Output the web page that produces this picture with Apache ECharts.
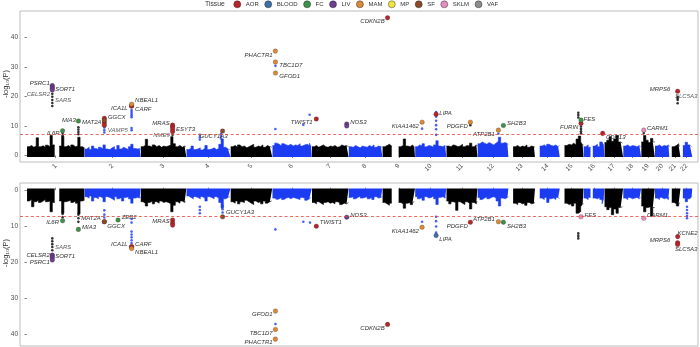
<!DOCTYPE html>
<html><head><meta charset="utf-8">
<script src="https://cdn.jsdelivr.net/npm/echarts@6/dist/echarts.min.js"></script>
<style>html,body{margin:0;padding:0;background:#fff}#c{width:700px;height:347px}</style>
</head><body><div id="c"></div>
<script>
// ---------------- DATA ----------------
const chromNames = ['1','2','3','4','5','6','7','8','9','10','11','12','13','14','15','16','17','18','19','20','21','22'];
const chromLengths = [249.25,243.2,198.0,191.15,180.9,171.1,159.1,146.4,141.2,135.5,135.0,133.85,115.2,107.3,102.5,90.35,81.2,78.1,59.1,63.0,48.1,51.3];
const tissues = ['AOR','BLOOD','FC','LIV','MAM','MP','SF','SKLM','VAF'];
const yTicksTop = [0,10,20,30,40];
const yTicksBottom = [0,10,20,30,40];
const gwThreshold = 7.3;
const binSize = 10; // Mb per envelope bin

// upper envelope of the dense background points (-log10 P), one list per chromosome, 10-Mb bins
const topEnvelope = [
 [3.0,3.4,2.8,3.2,6.0,3.0,3.3,2.8,3.5,3.0,6.8,3.6,null,null,3.2,6.5,3.0,3.4,2.8,3.6,3.0,3.2,6.2,3.0,2.6],
 [2.2,2.8,2.0,3.2,2.4,2.0,2.8,2.2,3.6,2.2,2.0,2.6,3.0,2.0,3.4,2.2,2.8,2.4,2.0,3.0,3.8,2.4,2.2,2.4,2.0],
 [3.0,3.4,5.5,3.2,2.8,3.6,3.0,3.4,2.8,3.2,3.0,3.2,3.6,6.4,4.0,3.0,3.4,2.8,3.2,3.0],
 [2.0,2.4,3.2,2.0,2.2,2.6,1.9,2.4,3.4,2.0,2.2,2.6,2.0,2.4,3.8,5.6,2.8,2.2,2.4,2.0],
 [3.0,3.4,2.8,3.6,3.0,3.2,2.6,3.0,3.4,3.8,2.8,3.2,3.0,3.6,2.8,3.4,3.0,3.2,2.8],
 [3.4,4.2,3.8,3.2,4.0,3.6,3.4,3.8,3.2,3.6,3.4,4.0,3.2,3.6,3.8,3.4,4.2,3.0],
 [3.0,3.4,2.8,3.2,3.6,3.0,2.8,3.2,3.0,3.4,2.8,3.0,3.6,3.2,3.4,3.0],
 [3.0,2.8,3.4,3.0,2.6,3.2,3.0,2.8,3.4,3.0,3.6,2.8,3.2,3.0,2.8],
 [3.0,3.4,3.8,3.2,null,null,null,3.0,3.4,5.6,3.2,3.0,3.6,3.0,2.8],
 [3.0,3.6,3.2,4.0,3.0,3.4,3.2,2.8,3.6,5.0,3.2,3.0,3.4,3.0],
 [3.2,3.0,3.6,3.4,3.0,3.2,3.8,3.0,3.4,3.2,4.2,3.0,3.6,3.2],
 [4.0,4.6,4.2,3.8,4.4,4.0,3.6,4.2,4.8,6.2,4.2,4.4,4.0,3.8],
 [null,null,3.0,3.4,2.8,3.2,3.0,3.6,2.8,3.2,3.0,2.8],
 [null,null,3.2,3.6,3.0,3.8,3.4,3.2,3.6,3.0,3.4],
 [null,null,3.4,3.8,3.6,4.2,3.6,5.6,6.6,4.6,3.6],
 [3.0,3.6,2.8,null,3.2,3.8,3.0,4.6,5.2,3.4],
 [4.4,5.2,6.4,4.8,5.6,6.8,4.6,5.0,4.2],
 [3.2,3.6,3.0,3.4,3.2,3.0,3.4,3.0],
 [4.6,6.8,5.2,4.4,5.8,4.6],
 [3.2,3.6,3.0,3.4,3.2,3.6,3.0],
 [null,3.0,3.4,4.0,3.2],
 [null,3.4,4.5,3.6,3.2,3.0]
];
const bottomEnvelope = [
 [3.0,2.6,4.6,3.2,2.8,3.4,3.0,2.6,3.2,3.0,6.0,3.4,null,null,3.0,6.4,3.2,3.0,2.8,3.4,3.0,3.6,6.6,3.0,2.8],
 [1.8,2.2,1.6,3.0,2.0,2.4,1.8,2.2,3.2,1.8,2.0,2.4,2.8,1.8,2.4,2.0,3.0,2.0,1.8,2.4,3.6,2.2,2.0,2.2,1.8],
 [3.2,3.6,4.4,3.4,3.0,3.8,3.2,3.6,3.0,3.4,3.2,3.4,3.8,6.0,4.2,3.2,3.6,3.0,3.4,3.2],
 [1.6,2.0,2.4,1.8,2.0,2.4,1.8,2.2,3.0,1.8,2.0,2.4,1.8,2.2,3.4,5.0,2.4,2.0,2.2,1.8],
 [3.2,3.6,3.0,3.8,3.2,3.4,2.8,3.2,3.6,4.0,3.0,3.4,3.2,3.8,3.0,3.6,3.2,3.4,3.0],
 [2.2,2.6,2.4,2.0,2.6,2.2,2.0,2.4,2.0,2.2,2.4,2.6,2.0,2.2,2.8,2.4,2.6,2.0],
 [3.4,3.8,3.2,3.6,4.0,3.4,3.2,3.6,3.4,3.8,3.2,3.4,4.0,3.6,3.8,3.4],
 [2.0,1.8,2.4,2.0,1.6,2.2,2.0,1.8,2.4,2.0,2.6,1.8,2.2,2.0,1.8],
 [3.4,3.8,4.2,3.6,null,null,null,3.4,3.8,5.0,3.6,3.4,4.0,3.4,3.2],
 [1.8,2.4,2.0,2.8,1.8,2.2,2.0,1.6,2.4,4.0,2.0,1.8,2.2,1.8],
 [3.0,3.8,3.2,3.4,5.6,3.2,3.6,4.0,3.2,3.6,5.2,3.4,3.8,3.2],
 [2.0,2.6,2.2,1.8,2.4,2.0,1.8,2.2,3.0,4.4,2.2,2.4,2.0,1.8],
 [null,null,3.6,4.0,3.4,3.8,3.6,4.2,3.4,3.8,3.6,3.4],
 [null,null,2.2,2.6,2.0,3.4,2.4,2.2,2.6,2.0,2.4],
 [null,null,3.6,4.0,3.8,4.4,3.6,6.4,6.0,4.6,3.8],
 [2.2,2.6,2.0,null,2.2,2.4,2.0,2.6,3.8,2.2],
 [4.6,5.4,4.8,6.8,5.2,6.4,4.8,5.0,4.6],
 [2.2,2.6,2.0,2.4,2.2,2.0,2.4,2.0],
 [4.4,6.0,4.8,4.6,7.2,4.8],
 [2.2,2.6,2.0,2.4,2.2,2.6,2.0],
 [null,3.4,3.8,4.4,3.6],
 [null,2.2,3.2,2.4,2.0,1.8]
];

// individual points: [gene label, chromosome, position (Mb), -log10 P, tissue ('' = background point)]
const topHits = [
 ['PSRC1',1,109.8,23.7,'LIV'],['',1,109.8,23.2,'LIV'],['SORT1',1,109.8,22.7,'LIV'],['',1,109.8,22.2,'LIV'],
 ['CELSR2',1,109.8,20.9,''],['',1,109.8,19.9,''],['SARS',1,109.8,18.8,''],['',1,109.8,17.8,''],['',1,109.8,16.8,''],
 ['IL6R',1,154.4,8.4,'FC'],['',1,154.4,7.6,''],['',1,154.4,6.8,''],
 ['MIA3',1,222.8,11.7,'FC'],['',1,222.8,9.6,''],['',1,222.8,8.8,''],['',1,222.8,8.0,''],['',1,222.8,7.2,''],
 ['GGCX',2,85.8,12.6,'AOR'],['',2,85.8,11.9,'SF'],['MAT2A',2,85.8,11.1,'AOR'],['',2,85.8,10.3,'AOR'],
 ['',2,85.8,9.5,''],['VAMP5',2,85.8,8.6,''],['',2,85.8,7.8,''],
 ['NBEAL1',2,203.8,17.4,'MAM'],['ICA1L',2,203.8,16.8,'AOR'],['CARF',2,203.8,16.8,'AOR'],
 ['',2,203.8,15.4,''],['',2,203.8,14.8,''],['',2,203.8,14.2,''],['',2,203.8,13.6,''],['',2,203.8,13.0,''],['',2,203.8,9.3,''],['',2,203.8,8.6,''],
 ['MRAS',3,138.1,10.3,'AOR'],['',3,138.1,9.7,'AOR'],['ESYT3',3,138.1,9.0,'AOR'],['',3,138.1,8.1,'AOR'],['NME9',3,138.1,7.0,''],
 ['',4,58.0,5.4,''],['',4,58.0,6.2,''],['',4,58.0,7.0,''],['',4,150.0,5.8,''],['',4,150.0,6.6,''],['',4,150.0,7.4,''],
 ['GUCY1A3',4,156.6,8.3,'SF'],
 ['PHACTR1',6,12.9,35.4,'MAM'],['TBC1D7',6,13.3,31.7,'MAM'],['',6,13.3,30.4,''],['GFOD1',6,13.4,28.0,'MAM'],
 ['',6,13.0,9.0,''],['',6,161.5,13.8,''],['',6,134.0,10.4,''],
 ['TWIST1',7,19.1,12.4,'AOR'],
 ['NOS3',7,150.7,10.7,'LIV'],['',7,150.7,10.0,'LIV'],
 ['CDKN2B',9,22.0,46.7,'AOR'],
 ['KIAA1462',10,30.3,11.3,'MAM'],['',10,30.3,9.1,''],
 ['',10,91.0,14.7,''],['LIPA',10,91.0,14.0,'AOR'],['',10,91.0,13.2,''],['',10,91.0,11.8,''],['',10,91.0,10.3,''],['',10,91.0,8.9,''],['',10,91.0,7.0,''],
 ['PDGFD',11,103.8,11.3,'MAM'],['',11,103.8,10.3,''],
 ['ATP2B1',12,90.0,8.6,'MAM'],['',12,90.0,7.4,''],
 ['SH2B3',12,111.8,10.2,'FC'],
 ['',15,79.7,14.5,''],['',15,79.7,13.7,''],['',15,79.7,12.9,''],
 ['FES',15,91.4,12.0,'FC'],['FURIN',15,91.4,10.9,'AOR'],['',15,91.4,9.8,''],['',15,91.4,9.0,''],['',15,91.4,8.2,''],['',15,91.4,7.5,''],
 ['CDH13',16,82.7,7.5,'AOR'],
 ['CARM1',19,11.0,8.6,'SKLM'],['',19,11.0,7.6,''],
 ['MRPS6',21,35.5,21.8,'AOR'],['SLC5A3',21,35.5,19.9,''],['',21,35.5,19.4,''],['',21,35.5,18.8,''],['',21,35.5,17.7,'']
];
const bottomHits = [
 ['IL6R',1,154.4,8.5,'FC'],['',1,154.4,7.5,''],['',1,154.4,6.6,''],
 ['MIA3',1,222.8,10.9,'FC'],['',1,222.8,8.8,''],['',1,222.8,7.8,''],['',1,222.8,6.8,''],
 ['',1,109.8,13.4,''],['',1,109.8,14.2,''],['',1,109.8,15.0,''],['SARS',1,109.8,15.8,''],['',1,109.8,16.7,''],
 ['CELSR2',1,109.8,18.0,'LIV'],['SORT1',1,109.8,18.3,'LIV'],['',1,109.8,18.8,'LIV'],['PSRC1',1,109.8,19.4,'LIV'],
 ['MAT2A',2,85.8,8.75,'SF'],['GGCX',2,85.8,8.75,'SF'],['',2,85.8,7.6,''],['',2,85.8,6.8,''],['',2,85.8,5.6,''],
 ['ZEB2',2,145.1,8.3,'FC'],
 ['',2,203.8,11.5,''],['',2,203.8,12.3,''],['',2,203.8,13.1,''],['',2,203.8,13.9,''],['',2,203.8,14.7,''],
 ['ICA1L',2,203.8,15.7,'AOR'],['CARF',2,203.8,15.7,'AOR'],['NBEAL1',2,203.8,16.2,'MAM'],['',2,203.8,9.0,''],['',2,203.8,8.0,''],
 ['',3,138.1,8.3,'AOR'],['MRAS',3,138.1,9.1,'AOR'],['',3,138.1,9.7,'AOR'],
 ['',4,58.0,4.6,''],['',4,58.0,5.5,''],['',4,58.0,6.4,''],['',4,156.6,4.4,''],['',4,156.6,5.3,''],['',4,156.6,6.2,''],
 ['GUCY1A3',4,156.6,7.4,'SF'],
 ['',6,13.0,10.9,''],['',6,134.0,8.75,''],['',6,162.9,9.0,''],
 ['TWIST1',7,19.1,10.0,'AOR'],
 ['NOS3',7,150.7,7.5,'LIV'],
 ['',10,30.3,8.75,''],['KIAA1462',10,30.3,10.3,'MAM'],
 ['',10,91.0,7.4,''],['',10,91.0,8.6,''],['',10,91.0,10.1,''],['',10,91.0,11.8,''],['LIPA',10,91.0,12.6,'BLOOD'],
 ['PDGFD',11,103.8,8.9,'AOR'],
 ['ATP2B1',12,90.0,8.75,'MAM'],['SH2B3',12,111.8,8.9,'FC'],
 ['',15,79.7,12.0,''],['',15,79.7,12.7,''],['',15,79.7,13.4,''],
 ['FES',15,91.4,7.4,'SKLM'],
 ['CARM1',19,11.0,7.8,'SKLM'],
 ['KCNE2',21,35.7,12.9,'AOR'],['MRPS6',21,35.5,14.6,'AOR'],['SLC5A3',21,35.5,15.1,'AOR'],
 ['',22,28.0,4.6,''],['',22,28.0,5.5,''],['',22,28.0,6.4,''],['',22,28.0,7.2,''],['',22,28.0,7.8,''],
 ['GFOD1',6,13.4,33.6,'MAM'],['',6,13.3,37.2,''],['TBC1D7',6,13.3,38.7,'MAM'],['PHACTR1',6,12.9,41.4,'MAM'],
 ['CDKN2B',9,22.0,37.3,'AOR']
];

// ---------------- STYLE ----------------
const tissueColors = {AOR:'#b5262b',BLOOD:'#3f6fa8',FC:'#3e8f47',LIV:'#6d3f8f',MAM:'#d98a36',MP:'#f0e442',SF:'#8a4a2a',SKLM:'#e58fc0',VAF:'#8c8c8c'};
const bandColors = ['#000000','#1b3cf2'];
// label placement: side (L/R/C), distance or dx (px from dot centre), dy (px)
const labelStyle = {
 'T:PSRC1':['L',2.3,-2.4],'T:SORT1':['R',2.7,0.7],'T:CELSR2':['L',2.3,0],'T:SARS':['R',2.7,0],
 'T:IL6R':['L',2.7,2.3],'T:MIA3':['L',2.3,-1],'T:MAT2A':['L',2.6,0],'T:GGCX':['R',3.4,-1.3],'T:VAMP5':['R',3.4,0],
 'T:NBEAL1':['R',3.3,-3.6],'T:ICA1L':['L',3.7,2.3],'T:CARF':['R',3.3,3.7],'T:MRAS':['L',2.7,-1.7],'T:ESYT3':['R',3.3,0],
 'T:NME9':['L',2.7,0],'T:GUCY1A3':['C',-9,5],'T:PHACTR1':['L',2.6,4],'T:TBC1D7':['R',3.7,3.7],'T:GFOD1':['R',3.7,3.3],
 'T:TWIST1':['L',3.4,3.7],'T:NOS3':['R',3.3,-1.3],'T:CDKN2B':['L',2.7,4],'T:KIAA1462':['L',3,4.4],'T:LIPA':['R',3,-1],
 'T:PDGFD':['L',2.4,3.7],'T:ATP2B1':['L',3.3,4],'T:SH2B3':['R',3.4,-2.6],'T:FES':['R',2.3,-0.7],'T:FURIN':['L',2.4,4],
 'T:CDH13':['R',3,3.7],'T:CARM1':['R',3,-1.7],'T:MRPS6':['L',7,-1.6],'T:SLC5A3':['C',8.5,0],
 'B:IL6R':['L',3.4,2],'B:MIA3':['R',3.4,-2],'B:MAT2A':['L',3.3,-3.4],'B:GGCX':['R',2.7,4.3],'B:ZEB2':['R',3.4,-2.7],
 'B:ICA1L':['L',3.7,-2.7],'B:CARF':['R',3.3,-2],'B:NBEAL1':['R',3.3,4],'B:SARS':['R',2.7,0],'B:SORT1':['R',2.7,0],
 'B:CELSR2':['L',2.3,0],'B:PSRC1':['L',2.3,2.7],'B:MRAS':['L',2.7,-1.3],'B:GUCY1A3':['R',3.3,-4],'B:TWIST1':['R',3.3,-3.7],
 'B:NOS3':['R',3.3,-2.3],'B:KIAA1462':['L',3,4],'B:LIPA':['R',3,3.3],'B:PDGFD':['L',2.4,4.4],'B:ATP2B1':['L',3.3,-2.7],
 'B:SH2B3':['R',3.4,3.7],'B:FES':['R',3.3,-1],'B:CARM1':['R',3,-2.6],'B:KCNE2':['C',9.8,-3.4],'B:MRPS6':['L',7,-2],
 'B:SLC5A3':['C',8.5,4.3],'B:GFOD1':['L',2.6,3.7],'B:TBC1D7':['L',2.6,4],'B:PHACTR1':['L',2.6,3.4],'B:CDKN2B':['L',2.7,4.4]
};
const FONT = 'Liberation Sans, Arial, Helvetica, sans-serif';
const HIT_SIZE = 4.6, BG_SIZE = 2.6;

// ---------------- BUILD ----------------
const chromOffsets = [];
{ let acc = 0; chromLengths.forEach(l => { chromOffsets.push(acc); acc += l; }); }
const chromCenters = chromLengths.map((l, i) => chromOffsets[i] + l / 2);
const cumPos = (c, p) => chromOffsets[c - 1] + p;
const bandColor = ci => bandColors[ci % 2];

function envelopeSeries(env, g) {
  return env.map((vals, ci) => {
    const len = chromLengths[ci], off = chromOffsets[ci];
    const data = vals.map((v, i) => [off + Math.min(binSize * i + binSize / 2, len - 0.5), v == null ? '-' : v]);
    data.unshift([off + 0.5, vals[0] == null ? '-' : vals[0]]);
    data.push([off + len - 0.5, vals[vals.length - 1] == null ? '-' : vals[vals.length - 1]]);
    return {
      type: 'line', xAxisIndex: g, yAxisIndex: g, data, step: 'middle', symbol: 'none', silent: true,
      lineStyle: {width: 0.6, color: bandColor(ci)},
      areaStyle: {color: bandColor(ci), opacity: 1, origin: -0.5}, z: 1, animation: false
    };
  });
}

function labelFor(panel, gene, r) {
  const base = {show: true, formatter: gene, fontSize: 6, fontStyle: 'italic', color: '#333333', fontFamily: FONT};
  const s = labelStyle[panel + ':' + gene];
  if (!s) return Object.assign(base, {position: 'right', distance: 2});
  if (s[0] === 'L') return Object.assign(base, {position: 'left', distance: Math.max(0, s[1] - r), offset: [0, s[2]]});
  if (s[0] === 'R') return Object.assign(base, {position: 'right', distance: Math.max(0, s[1] - r), offset: [0, s[2]]});
  return Object.assign(base, {position: 'inside', align: 'center', offset: [s[1], s[2]]});
}

function hitSeries(hits, g, panel) {
  const out = [];
  const bg = hits.filter(h => h[4] === '').map(h => ({
    value: [cumPos(h[1], h[2]), h[3]],
    itemStyle: {color: bandColor(h[1] - 1)},
    label: h[0] ? labelFor(panel, h[0], BG_SIZE / 2) : {show: false}
  }));
  out.push({
    type: 'scatter', xAxisIndex: g, yAxisIndex: g, data: bg, symbolSize: BG_SIZE, z: 3, silent: true, animation: false,
    markLine: {silent: true, symbol: ['none', 'none'], label: {show: false}, animation: false,
      lineStyle: {color: '#e3443b', type: [3, 2.4], width: 0.8}, data: [{yAxis: gwThreshold}]}
  });
  tissues.forEach(t => {
    const d = hits.filter(h => h[4] === t).map(h => ({
      value: [cumPos(h[1], h[2]), h[3]],
      label: h[0] ? labelFor(panel, h[0], HIT_SIZE / 2) : {show: false}
    }));
    out.push({
      type: 'scatter', name: t, xAxisIndex: g, yAxisIndex: g, data: d, symbolSize: HIT_SIZE, z: 4, silent: true, animation: false,
      itemStyle: {color: tissueColors[t], borderColor: 'rgba(40,20,20,0.6)', borderWidth: 0.4, opacity: 1}
    });
  });
  return out;
}

const xMin = -30, xMax = 2905;
const centerName = v => { const i = chromCenters.findIndex(c => Math.abs(c - v) < 0.01); return i >= 0 ? chromNames[i] : ''; };
const axisTxt = {fontSize: 6.5, color: '#4d4d4d', fontFamily: FONT};

const option = {
  backgroundColor: '#ffffff',
  animation: false,
  legend: {
    data: tissues, left: 233.5, top: 0.5, icon: 'circle', itemWidth: 7, itemHeight: 7, itemGap: 5.6, padding: 0,
    textStyle: {fontSize: 6, color: '#333333', fontFamily: FONT},
    itemStyle: {borderColor: 'rgba(30,30,30,0.7)', borderWidth: 0.6}, selectedMode: false
  },
  graphic: [
    {type: 'text', x: 205, y: 4, style: {text: 'Tissue', fontSize: 6.8, fill: '#333333', fontFamily: FONT, verticalAlign: 'middle'}},
    {type: 'text', x: 6, y: 84, rotation: Math.PI / 2, style: {text: '-log₁₀(P)', fontSize: 7.5, fill: '#333333', fontFamily: FONT + ', DejaVu Sans', align: 'center', verticalAlign: 'middle'}},
    {type: 'text', x: 6, y: 253, rotation: Math.PI / 2, style: {text: '-log₁₀(P)', fontSize: 7.5, fill: '#333333', fontFamily: FONT + ', DejaVu Sans', align: 'center', verticalAlign: 'middle'}}
  ],
  grid: [
    {left: 20, top: 11, width: 678, height: 151, show: true, borderColor: '#bdbdbd', borderWidth: 1, backgroundColor: 'transparent'},
    {left: 20, top: 183, width: 678, height: 163, show: true, borderColor: '#bdbdbd', borderWidth: 1, backgroundColor: 'transparent'}
  ],
  xAxis: [
    {type: 'value', gridIndex: 0, min: xMin, max: xMax, splitLine: {show: false}, axisLine: {show: false},
      axisTick: {show: true, customValues: chromCenters, length: 2.5, lineStyle: {color: '#333', width: 0.6}},
      axisLabel: Object.assign({customValues: chromCenters, formatter: centerName, rotate: 45, margin: 3}, axisTxt)},
    {type: 'value', gridIndex: 1, position: 'top', min: xMin, max: xMax, splitLine: {show: false}, axisLine: {show: false},
      axisTick: {show: true, customValues: chromCenters, length: 2.5, lineStyle: {color: '#333', width: 0.6}},
      axisLabel: {show: false}}
  ],
  yAxis: [
    {type: 'value', gridIndex: 0, min: -2.2, max: 49, splitLine: {show: false}, axisLine: {show: false},
      axisTick: {show: true, customValues: yTicksTop, length: 2.5, lineStyle: {color: '#333', width: 0.6}},
      axisLabel: Object.assign({customValues: yTicksTop, margin: 2}, axisTxt)},
    {type: 'value', gridIndex: 1, inverse: true, min: -2, max: 43.3, splitLine: {show: false}, axisLine: {show: false},
      axisTick: {show: true, customValues: yTicksBottom, length: 2.5, lineStyle: {color: '#333', width: 0.6}},
      axisLabel: Object.assign({customValues: yTicksBottom, margin: 2}, axisTxt)}
  ],
  series: [].concat(
    envelopeSeries(topEnvelope, 0), envelopeSeries(bottomEnvelope, 1),
    hitSeries(topHits, 0, 'T'), hitSeries(bottomHits, 1, 'B')
  )
};
const chart = echarts.init(document.getElementById('c'), null, {renderer: 'canvas'});
chart.setOption(option);
</script></body></html>
